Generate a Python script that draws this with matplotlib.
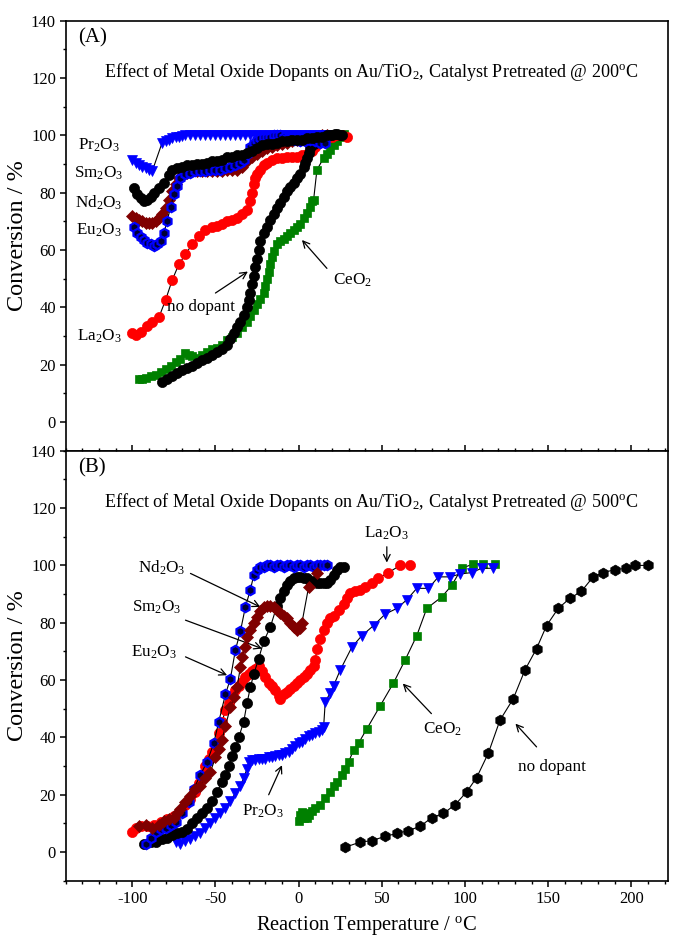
import matplotlib
matplotlib.use("Agg")
import matplotlib.pyplot as plt
from matplotlib.ticker import MultipleLocator

plt.rcParams['font.family'] = ['Liberation Serif', 'DejaVu Serif']
plt.rcParams['mathtext.fontset'] = 'custom'
plt.rcParams['mathtext.rm'] = 'Liberation Serif'
plt.rcParams['mathtext.it'] = 'Liberation Serif:italic'
plt.rcParams['mathtext.bf'] = 'Liberation Serif:bold'
plt.rcParams['axes.unicode_minus'] = False

# ---------------- Panel A data (pretreated @ 200 C) ----------------
pr_a_T = [-100, -98, -96, -94, -92, -90, -88, -82, -80, -78, -76, -74, -72, -70, -68,
          -65, -62, -59, -56, -53, -50, -47, -44, -41, -38, -35, -32, -29, -26, -23,
          -20, -17, -14, -11, -8, -5, -2, 1, 4, 7, 10, 13, 16, 18]
pr_a_V = [91.5, 90.5, 89.8, 89, 88.5, 88, 87.5, 97.5, 98, 98.5, 99, 99.3, 99.5, 99.7, 100,
          100, 100, 100, 100, 100, 100, 100, 100, 100, 100, 100, 100, 100, 100, 100,
          100, 100, 100, 100, 100, 100, 100, 100, 100, 100, 100, 100, 100, 100]

sm_a_T = [-99, -97, -95, -93, -91, -89, -87, -84, -81, -78, -76, -73, -70, -67, -64,
          -61, -58, -55, -52, -49, -46, -43, -40, -37, -34, -31, -28, -25, -22, -19,
          -16, -13, -10, -7, -4, -1, 2, 5, 8, 11, 14, 17, 20, 23, 26]
sm_a_V = [81.5, 79.5, 78, 77, 77.5, 78.5, 80, 81.5, 83.5, 86, 88, 88.5, 89, 89.5, 89.5,
          90, 90, 90.5, 91, 91, 91.5, 92.5, 92.5, 93, 93, 94, 94.5, 95.5, 96.5, 97,
          97, 97.5, 98, 98, 98.5, 98.5, 98.5, 99, 99, 99.5, 99.5, 100, 100, 100.5, 100]

nd_a_T = [-100, -98, -96, -94, -92, -90, -88, -86, -84, -82, -80, -78, -76, -74, -72, -70,
          -67, -64, -61, -58, -55, -52, -49, -46, -43, -40, -37, -34, -31, -28, -25, -22,
          -19, -16, -13, -10, -7, -4, -1, 2, 5, 8, 11, 14, 17]
nd_a_V = [72, 71, 70.5, 70, 69.5, 69.5, 69.5, 70, 71, 72.5, 74.5, 77.5, 80.5, 83, 85, 86,
          87, 87.5, 87.5, 87.5, 87.5, 87.5, 87.5, 87.5, 88, 88, 88, 89, 91, 92.5, 93.5, 94.5,
          95.5, 96, 96.5, 97, 97.5, 98, 98.5, 99, 99, 99.5, 99.5, 100, 100]

eu_a_T = [-99, -97, -95, -93, -91, -89, -87, -85, -83, -81, -79, -77, -75, -73, -71,
          -68, -65, -62, -59, -56, -53, -50, -47, -44, -41, -38, -35,
          -33, -31, -29, -27, -25, -23, -21, -19, -17, -15, -13, -11, -9, -7, -5, -3, -1,
          1, 4, 7, 10, 13, 16]
eu_a_V = [68, 66, 64.5, 63.5, 62.5, 62, 61.5, 62, 63, 66, 70, 75, 79.5, 82.5, 85,
          86.5, 87, 87.5, 87.5, 87.5, 88, 88, 88, 88.5, 89, 89.5, 90.5,
          91.5, 93.5, 96, 97.5, 98.5, 99, 99.5, 99.5, 99.5, 100, 100, 100, 99.5, 99, 99, 98.5, 98.5,
          98, 98, 98.5, 98, 97.5, 97.5]

la_a_T = [-100, -98, -95, -91, -88, -84, -80, -76, -72, -68, -64, -60, -56,
          -52, -49, -46, -43, -40, -37, -34, -31, -29, -28, -27, -26, -25, -23, -21, -19,
          -16, -13, -10, -7, -4, -1, 2, 5, 8, 10, 12, 14, 17, 20, 23, 26, 29]
la_a_V = [31, 30.5, 31.5, 33.5, 35, 36.5, 42.5, 49.5, 55, 58.5, 62, 65, 67,
          68, 68.5, 69, 70, 70.5, 71, 72.5, 74, 77, 80, 83, 85, 86.5, 88, 89.5, 90.5,
          91.5, 92, 92, 92.5, 92.5, 92.5, 93, 93.5, 94.5, 96, 97.5, 98.5, 99, 99.5, 100, 100, 99.5]

nodop_a_T = [-82, -79, -76, -73, -70, -67, -64, -61, -58, -55, -52, -49, -46, -43,
             -41, -39, -37, -35, -33, -31, -30, -29, -28, -27, -26, -25, -24, -23,
             -21, -19, -17, -15, -13, -11, -9, -7, -5, -3, -1, 1, 3, 4, 5, 6, 7,
             9, 11, 13, 16, 19, 22, 25]
nodop_a_V = [14, 15, 16, 17, 18, 19, 19.5, 20.5, 21.5, 22.5, 23.5, 24.5, 25.5, 27,
             29, 31, 33, 35, 37.5, 40, 42.5, 45, 48, 51, 54, 57, 60, 63,
             66, 68, 70.5, 72.5, 74.5, 76.5, 78.5, 80.5, 82, 83.5, 85, 86.5, 89, 90.5, 92, 94, 95.5,
             97, 98, 99, 99.5, 100, 100.5, 100]

ce_a_T = [-96, -94, -92, -89, -86, -83, -80, -77, -74, -71, -68,
          -66, -64, -61, -58, -55, -52, -49, -46, -43, -40, -37, -34, -31,
          -29, -27, -25, -23, -21, -20, -19, -18, -17, -16, -15, -13, -11, -9, -7, -5, -3, -1,
          1, 3, 5, 7, 8, 9, 11, 15, 17, 19, 21, 23, 25, 27]
ce_a_V = [15, 15, 15.5, 16, 16.5, 17.5, 18.5, 19.5, 21, 22, 24,
          23.5, 23, 22.5, 23.5, 24.5, 25.5, 26, 27, 28.5, 29.5, 31, 33, 35,
          37, 39, 41, 43, 45, 47.5, 50, 52.5, 55, 57.5, 59.5, 62, 63, 64, 65, 66, 67, 68,
          69, 71, 73, 75, 77, 77.5, 88, 92, 93.5, 95, 96.5, 98, 99.5, 100.5]

# ---------------- Panel B data (pretreated @ 500 C) ----------------
eu_b_T = [-92, -89, -86, -83, -80, -77, -74, -70, -66, -63, -59, -55,
          -51, -48, -44, -41, -38, -35, -32, -29, -27,
          -25, -23, -21, -19, -17, -15, -13, -11, -9, -7, -5, -3, -1,
          1, 3, 5, 7, 9, 11, 13, 15, 17]
eu_b_V = [3, 5, 7, 8, 8.5, 9.5, 10.5, 13.5, 17.5, 22, 27, 31.5,
          38, 45.5, 55, 60.5, 70.5, 77, 85.5, 91.5, 96.5,
          98.5, 99.5, 99.5, 100, 100, 99.5, 100, 100, 99.5, 100, 100, 99.5, 100,
          100, 99.5, 100, 100, 99.5, 100, 100, 100, 100]

nd_b_T = [-96, -92, -88, -84, -81, -78, -75, -73, -71, -68, -65, -62, -59, -56, -53, -50,
          -48, -46, -44, -41, -39, -37, -35, -34, -32, -31, -29, -27, -25, -23, -21,
          -19, -17, -15, -13, -11, -9, -7, -5, -3, -1, 1, 2, 6, 11]
nd_b_V = [9, 9.5, 8.5, 9.5, 11, 11.5, 12, 13.5, 15, 17.5, 19.5, 22, 23, 26, 28, 33,
          36, 39, 44, 50.5, 54, 57.5, 64.5, 68, 71.5, 75, 77.5, 80, 82, 84, 85.5,
          86, 86, 85.5, 84.5, 83.5, 82.5, 81.5, 80, 78.5, 77.5, 78, 80, 92.5, 97.5]

sm_b_T = [-93, -89, -86, -82, -79, -76, -73, -70, -67, -64, -61, -58, -55, -52, -49, -46,
          -44, -42, -40, -38, -36, -33, -31, -29, -27, -24, -21, -17, -13,
          -11, -9, -7, -5, -3, -1, 1, 3, 5, 7, 9, 11, 13, 15, 17, 19, 21, 23, 25, 27]
sm_b_V = [3, 3.5, 3.5, 4.5, 5, 6, 6.5, 7, 8, 10, 12, 13.5, 15.5, 18, 21, 24.5,
          27, 30, 33.5, 36.5, 40, 45.5, 52, 57.5, 62, 67.5, 73.5, 78.5, 86,
          88.5, 91, 93, 94.5, 95.5, 96, 96, 95.5, 95.5, 94.5, 94.5, 94, 94, 94, 94, 95, 96.5, 98.5, 99.5, 99.5]

la_b_T = [-100, -98, -95, -91, -87, -83, -79, -75, -71, -68, -65, -62, -60, -58, -56, -54,
          -52, -50, -48, -46, -44, -42, -40, -38, -36, -34, -32, -30, -28, -26, -24, -22,
          -20, -18, -16, -14, -12, -11, -9, -7, -5, -3, -1, 1, 3, 5, 7, 9, 10, 11, 13,
          15, 17, 19, 21, 24, 27, 29, 31, 34, 37, 40, 44, 48, 54, 61, 67]
la_b_V = [7, 8.5, 9, 9, 9.5, 10.5, 11.5, 12.5, 14, 16.5, 18.5, 21, 24, 27, 30, 32.5,
          35, 38, 41.5, 45.5, 49.5, 52, 54.5, 56.5, 58, 59.5, 61, 62, 63, 64, 65, 63,
          61, 59, 58, 56.5, 54.5, 53.5, 55, 56, 57, 58, 59, 60, 61, 62, 63.5, 65, 67, 71, 74.5,
          77.5, 80, 81.5, 82.5, 84.5, 86.5, 88.5, 90.5, 91, 91.5, 92.5, 94, 95.5, 97.5, 100, 100]

pr_b_T = [-74, -71, -68, -65, -62, -59, -56, -53, -50, -47, -44, -41, -38, -35,
          -33, -31, -30, -28, -26, -24, -22, -20, -18, -16, -14, -12, -10, -8, -6, -4, -2, 0,
          2, 4, 6, 8, 10, 12, 14, 15, 16,
          19, 21, 25, 32, 38, 45, 52, 59, 65, 71, 78, 84, 91, 97, 104, 110, 117]
pr_b_V = [3.5, 3, 4, 4.5, 5.5, 6.5, 8.5, 10, 12, 13.5, 15.5, 18, 20.5, 23,
          26, 29, 31.5, 32, 32, 32.5, 32.5, 32.5, 33, 33, 33.5, 34, 34, 34.5, 35, 36, 37, 38,
          38.5, 39.5, 40.5, 41, 41.5, 42, 42.5, 43.5, 52.5,
          55.5, 58, 63.5, 71.5, 75.5, 79, 83, 85, 88, 92, 92, 96, 96, 97, 97.5, 99, 99]

ce_b_T = [0, 1, 2, 3, 4, 5, 6, 8, 10, 13, 16, 19, 21, 23, 26, 28, 30, 33, 36, 41,
          49, 57, 64, 71, 77, 86, 92, 98, 105, 111, 118]
ce_b_V = [11, 13, 14, 12, 13.5, 12, 13, 14.5, 15.5, 16.5, 19, 21, 23, 24.5, 27, 29, 31.5, 35.5, 38, 43,
          51, 59, 67, 75.5, 85, 89, 93, 99, 100.5, 100.5, 100.5]

nodop_b_T = [28, 37, 44, 52, 59, 66, 73, 80, 87, 94, 101, 107, 114, 121, 129, 136, 143,
             149, 156, 163, 170, 177, 183, 190, 197, 202, 210]
nodop_b_V = [1.7, 3.5, 4, 5.5, 6.5, 7.5, 9, 12, 13.5, 16.5, 21, 26, 34.5, 46, 53.5, 63.5, 71,
             79, 85, 88.5, 91, 96, 97.5, 98.5, 99, 100, 100]

# ---------------- styles ----------------
RED, BLUE, GREEN, MAROON, BLACK = '#ff0000', '#0000ff', '#008000', '#800000', '#000000'


def series(ax, T, V, marker, color, ms, edge=None, mew=0.5, z=2):
    ax.plot(T, V, '-', color='black', lw=0.8, marker=marker, ms=ms,
            mfc=color, mec=edge if edge else color, mew=mew, zorder=z)


fig = plt.figure(figsize=(6.73, 9.39), dpi=100)
axA = fig.add_axes([0.0976, 0.520, 0.895, 0.458])
axB = fig.add_axes([0.0976, 0.062, 0.895, 0.458])

# Panel A
series(axA, ce_a_T, ce_a_V, 's', GREEN, 6.4, z=2)
series(axA, la_a_T, la_a_V, 'o', RED, 7.3, z=3)
series(axA, nodop_a_T, nodop_a_V, 'o', BLACK, 7.3, z=4)
series(axA, nd_a_T, nd_a_V, 'D', MAROON, 5.7, z=3)
series(axA, eu_a_T, eu_a_V, 'h', '#000033', 6.7, edge=BLUE, mew=1.6, z=4)
series(axA, pr_a_T, pr_a_V, 'v', BLUE, 6.8, z=3)
series(axA, sm_a_T, sm_a_V, 'o', BLACK, 7.3, z=5)

# Panel B
series(axB, ce_b_T, ce_b_V, 's', GREEN, 6.4, z=2)
series(axB, pr_b_T, pr_b_V, 'v', BLUE, 6.8, z=3)
series(axB, la_b_T, la_b_V, 'o', RED, 7.3, z=3)
series(axB, sm_b_T, sm_b_V, 'o', BLACK, 7.3, z=4)
series(axB, nd_b_T, nd_b_V, 'D', MAROON, 5.7, z=5)
series(axB, eu_b_T, eu_b_V, 'h', '#000033', 6.7, edge=BLUE, mew=1.6, z=4)
series(axB, nodop_b_T, nodop_b_V, 'h', BLACK, 7.8, z=3)

LBL = 12.3
arrow = dict(arrowstyle='->', color='black', lw=0.9, shrinkA=0, shrinkB=0,
             mutation_scale=12)

# Panel A labels
for txt, v in [('Pr$_2$O$_3$', 96.4), ('Sm$_2$O$_3$', 86.8), ('Nd$_2$O$_3$', 76.5),
               ('Eu$_2$O$_3$', 67.0), ('La$_2$O$_3$', 30.0)]:
    axA.text(-120, v, txt, fontsize=LBL, ha='center', va='center')
axA.annotate('', xy=(-30.5, 52.5), xytext=(-50, 45), arrowprops=arrow)
axA.text(-59, 40.2, 'no dopant', fontsize=LBL, ha='center', va='center')
axA.annotate('', xy=(2, 63.5), xytext=(17, 53.6), arrowprops=arrow)
axA.text(32.3, 49.6, 'CeO$_2$', fontsize=LBL, ha='center', va='center')

# Panel B labels
axB.annotate('', xy=(-23, 85.5), xytext=(-65, 97.2), arrowprops=arrow)
axB.text(-82, 99, 'Nd$_2$O$_3$', fontsize=LBL, ha='center', va='center')
axB.annotate('', xy=(-22, 71), xytext=(-68, 80.9), arrowprops=arrow)
axB.text(-85, 85.5, 'Sm$_2$O$_3$', fontsize=LBL, ha='center', va='center')
axB.annotate('', xy=(-43, 61.7), xytext=(-68, 68.1), arrowprops=arrow)
axB.text(-87, 69.8, 'Eu$_2$O$_3$', fontsize=LBL, ha='center', va='center')
axB.annotate('', xy=(53, 101), xytext=(53, 106.5), arrowprops=arrow)
axB.text(53, 111.2, 'La$_2$O$_3$', fontsize=LBL, ha='center', va='center')
axB.annotate('', xy=(62.6, 58.8), xytext=(79.8, 48.3), arrowprops=arrow)
axB.text(86.7, 43, 'CeO$_2$', fontsize=LBL, ha='center', va='center')
axB.annotate('', xy=(130.3, 44.8), xytext=(143, 36.7), arrowprops=arrow)
axB.text(152, 29.7, 'no dopant', fontsize=LBL, ha='center', va='center')
axB.annotate('', xy=(-10, 30.3), xytext=(-18, 20), arrowprops=arrow)
axB.text(-21.4, 14.2, 'Pr$_2$O$_3$', fontsize=LBL, ha='center', va='center')

# Titles / panel letters
axA.text(-124, 134, '(A)', fontsize=15, ha='center', va='center')
axB.text(-124, 134, '(B)', fontsize=15, ha='center', va='center')
axA.text(43.5, 122, 'Effect of Metal Oxide Dopants on Au/TiO$_2$, Catalyst Pretreated @ 200$^{\\rm o}$C',
         fontsize=13.1, ha='center', va='center')
axB.text(43.5, 122, 'Effect of Metal Oxide Dopants on Au/TiO$_2$, Catalyst Pretreated @ 500$^{\\rm o}$C',
         fontsize=13.1, ha='center', va='center')

for ax in (axA, axB):
    ax.set_xlim(-140, 222)
    ax.set_ylim(-10, 140)
    ax.xaxis.set_major_locator(MultipleLocator(50))
    ax.xaxis.set_minor_locator(MultipleLocator(10))
    ax.yaxis.set_major_locator(MultipleLocator(20))
    ax.yaxis.set_minor_locator(MultipleLocator(10))
    ax.tick_params(axis='y', which='major', direction='out', length=4, width=1.1,
                   labelsize=12, right=False, pad=3)
    ax.tick_params(axis='y', which='minor', direction='out', length=2.5, width=1.0, right=False)
    for s in ax.spines.values():
        s.set_linewidth(1.2)
    ax.set_ylabel('Conversion / %', fontsize=17.5, labelpad=2)

axA.tick_params(axis='x', which='both', bottom=False, top=False, labelbottom=False)
axB.tick_params(axis='x', which='major', direction='out', length=4, width=1.1,
                labelsize=12, top=True, bottom=True, labeltop=False)
axB.tick_params(axis='x', which='minor', direction='out', length=2.5, width=1.0,
                top=True, bottom=True)
axB.set_xlabel('Reaction Temperature / $^{\\rm o}$C', fontsize=14.8, labelpad=5)

fig.savefig('out.png', dpi=100)
